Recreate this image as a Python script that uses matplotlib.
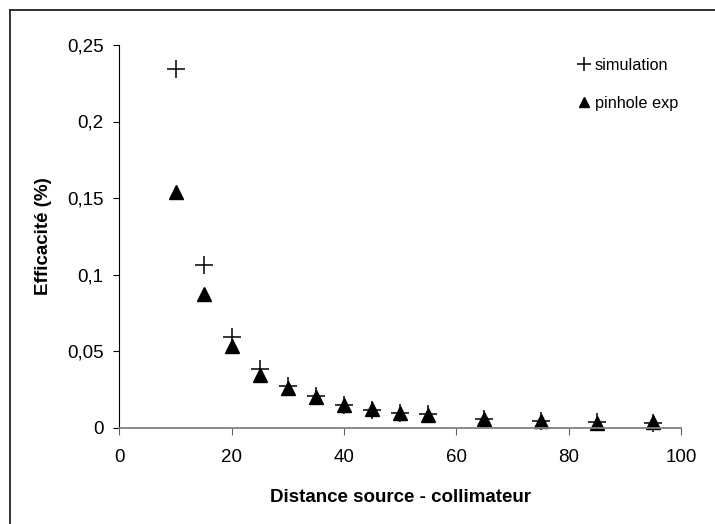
import matplotlib
matplotlib.use("Agg")
import matplotlib.pyplot as plt
from matplotlib.lines import Line2D

plt.rcParams["font.family"] = ["Liberation Sans", "DejaVu Sans"]

# distance source - collimateur
distance = [10, 15, 20, 25, 30, 35, 40, 45, 50, 55, 65, 75, 85, 95]
# efficacité (%)
simulation = [0.234, 0.106, 0.059, 0.038, 0.027, 0.0205, 0.015, 0.0115,
              0.0093, 0.0085, 0.0055, 0.0045, 0.0033, 0.0032]
pinhole_exp = [0.154, 0.087, 0.053, 0.0345, 0.0256, 0.0198, 0.0147, 0.0119,
               0.0097, 0.0082, 0.0058, 0.0045, 0.0032, 0.0036]

x_ticks = [0, 20, 40, 60, 80, 100]
y_ticks = [0, 0.05, 0.1, 0.15, 0.2, 0.25]
y_tick_labels = ["0", "0,05", "0,1", "0,15", "0,2", "0,25"]

W, H = 715, 524
fig = plt.figure(figsize=(W / 100, H / 100), dpi=100)
ax = fig.add_axes([119.4 / W, 1 - 427.5 / H, (681 - 119.4) / W, (427.5 - 45) / H])

ax.plot(distance, pinhole_exp, linestyle="none", marker="^", markersize=10,
        color="black", label="pinhole exp", clip_on=False)
ax.plot(distance, simulation, linestyle="none", marker="+", markersize=12.5,
        markeredgewidth=1.1, color="black", label="simulation", clip_on=False)

ax.set_xlim(0, 100)
ax.set_ylim(0, 0.25)
ax.set_xticks(x_ticks)
ax.set_yticks(y_ticks)
ax.set_yticklabels(y_tick_labels)

for side in ("top", "right"):
    ax.spines[side].set_visible(False)
ax.spines["left"].set_color("black")
ax.spines["left"].set_linewidth(0.8)
ax.spines["bottom"].set_color("#808080")
ax.spines["bottom"].set_linewidth(1.3)

ax.tick_params(axis="y", direction="out", length=4.5, width=0.8,
               color="black", labelsize=13.5, pad=7)
ax.tick_params(axis="x", direction="out", length=4.8, width=0.8,
               color="#606060", labelsize=13.5, pad=11)

fig.text(400 / W, 1 - 497 / H, "Distance source - collimateur",
         fontsize=13.5, fontweight="bold", ha="center", va="center")
fig.text(44 / W, 1 - 236 / H, "Efficacité (%)", rotation=90,
         fontsize=13.5, fontweight="bold", ha="center", va="center")

handles, labels = ax.get_legend_handles_labels()
ax.legend(handles[::-1], labels[::-1], loc="upper left",
          bbox_to_anchor=(577 / W, 1 - 58 / H), bbox_transform=fig.transFigure,
          frameon=False, fontsize=11.7, markerscale=0.75, handlelength=0.8,
          handletextpad=0.3, labelspacing=1.4, borderpad=0, borderaxespad=0)

# outer frame on the left and top edges
fig.add_artist(Line2D([9.5 / W, 9.5 / W], [0, 1 - 10 / H], color="#222222",
                      linewidth=1.3, transform=fig.transFigure))
fig.add_artist(Line2D([9.5 / W, 1], [1 - 10 / H, 1 - 10 / H], color="#222222",
                      linewidth=1.3, transform=fig.transFigure))

fig.savefig("out.png", dpi=100)
